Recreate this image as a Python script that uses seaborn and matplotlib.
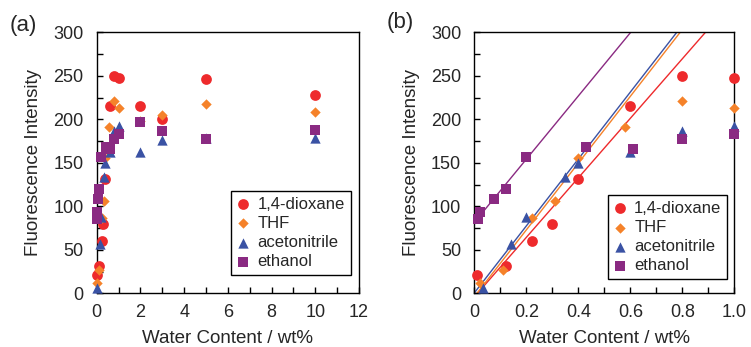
import numpy as np
import pandas as pd
import matplotlib
matplotlib.use("Agg")
import matplotlib.pyplot as plt
from matplotlib.ticker import MultipleLocator, FixedLocator, FixedFormatter
import seaborn as sns

# ---------------- data ----------------
series = ["1,4-dioxane", "THF", "acetonitrile", "ethanol"]

x_dioxane = [0.01, 0.12, 0.22, 0.30, 0.40, 0.60, 0.80, 1.0, 2, 3, 5, 10]
y_dioxane = [21, 31, 60, 80, 132, 216, 250, 248, 215, 200, 246, 228]

x_thf = [0.02, 0.11, 0.22, 0.31, 0.40, 0.58, 0.80, 1.0, 2, 3, 5, 10]
y_thf = [11.5, 27, 87, 106, 156, 191, 221, 213, 198, 205, 218, 209]

x_acn = [0.035, 0.14, 0.20, 0.35, 0.40, 0.60, 0.80, 1.0, 2, 3, 5, 10]
y_acn = [6.5, 57, 88, 134, 150, 163, 187, 192, 163, 176, 179, 179]

x_etoh = [0.015, 0.02, 0.075, 0.12, 0.20, 0.43, 0.61, 0.80, 1.0, 2, 3, 5, 10]
y_etoh = [85, 93, 109, 120, 157, 168, 166, 177, 183, 197, 187, 177, 188]

# linear fits in panel (b) use points up to these water contents
fit_upto = [0.6, 0.4, 0.4, 0.2]

xticks_a = [0, 2, 4, 6, 8, 10, 12]
xticklabels_a = ["0", "2", "4", "6", "8", "10", "12"]
xticks_b = [0, 0.2, 0.4, 0.6, 0.8, 1.0]
xticklabels_b = ["0", "0.2", "0.4", "0.6", "0.8", "1.0"]
yticks = [0, 50, 100, 150, 200, 250, 300]
yticklabels = ["0", "50", "100", "150", "200", "250", "300"]

# ---------------- style ----------------
colors = ["#ee2a2c", "#f5822a", "#3a52a4", "#8a2a82"]
markers = ["o", "D", "^", "s"]
msizes = [60, 28, 55, 55]

sns.set_theme(style="ticks")
plt.rcParams["font.family"] = ["Liberation Sans", "DejaVu Sans"]

frames = []
for name, xs, ys in zip(series, [x_dioxane, x_thf, x_acn, x_etoh],
                        [y_dioxane, y_thf, y_acn, y_etoh]):
    frames.append(pd.DataFrame({"water": xs, "intensity": ys, "solvent": name}))
df = pd.concat(frames, ignore_index=True)

fig = plt.figure(figsize=(7.51, 3.47), dpi=100)
ax_a = fig.add_axes([0.1288, 0.1548, 0.3493, 0.7516])
ax_b = fig.add_axes([0.6316, 0.1548, 0.3462, 0.7516])


def draw_points(ax, data):
    for name, c, m, s in zip(series, colors, markers, msizes):
        sub = data[data["solvent"] == name]
        sns.scatterplot(data=sub, x="water", y="intensity", ax=ax,
                        color=c, marker=m, s=s, linewidth=0,
                        label=name, clip_on=False, zorder=3)


draw_points(ax_a, df)
draw_points(ax_b, df[df["water"] <= 1.0])

# fitted lines in panel (b)
xline = np.array([0.0, 1.0])
for name, c, lim in zip(series, colors, fit_upto):
    sub = df[(df["solvent"] == name) & (df["water"] <= lim + 1e-9)]
    k, b = np.polyfit(sub["water"], sub["intensity"], 1)
    ax_b.plot(xline, k * xline + b, color=c, lw=1.0, zorder=2)

for ax, xt, xtl, xlim in [(ax_a, xticks_a, xticklabels_a, (0, 12)),
                          (ax_b, xticks_b, xticklabels_b, (0, 1.0))]:
    ax.set_xlim(*xlim)
    ax.set_ylim(0, 300)
    ax.xaxis.set_major_locator(FixedLocator(xt))
    ax.xaxis.set_major_formatter(FixedFormatter(xtl))
    ax.xaxis.set_minor_locator(MultipleLocator((xt[1] - xt[0]) / 2))
    ax.yaxis.set_major_locator(FixedLocator(yticks))
    ax.yaxis.set_major_formatter(FixedFormatter(yticklabels))
    ax.yaxis.set_minor_locator(MultipleLocator(25))
    ax.tick_params(which="both", direction="in", length=4, width=1.0,
                   color="black", top=False, right=False)
    ax.tick_params(axis="y", which="both", pad=9.5, labelsize=13)
    ax.tick_params(axis="x", which="both", pad=8.0, labelsize=13)
    for sp in ax.spines.values():
        sp.set_visible(True)
        sp.set_linewidth(1.0)
        sp.set_color("black")
    ax.set_xlabel("Water Content / wt%", fontsize=13.5, labelpad=6)
    ax.set_ylabel("Fluorescence Intensity", fontsize=13.5, labelpad=8)

legend_kw = dict(loc="lower right", borderaxespad=0, fontsize=12,
                 frameon=True, fancybox=False, edgecolor="black",
                 framealpha=1, handlelength=0.8, handletextpad=0.45,
                 labelspacing=0.25, borderpad=0.35)
ax_a.legend(bbox_to_anchor=(0.968, 0.070), **legend_kw).get_frame().set_linewidth(1.0)
ax_b.legend(bbox_to_anchor=(0.973, 0.054), **legend_kw).get_frame().set_linewidth(1.0)

fig.text(10 / 751, 1 - 15 / 347, "(a)", fontsize=16, ha="left", va="top")
fig.text(387 / 751, 1 - 12 / 347, "(b)", fontsize=16, ha="left", va="top")

fig.savefig("out.png", dpi=100)
